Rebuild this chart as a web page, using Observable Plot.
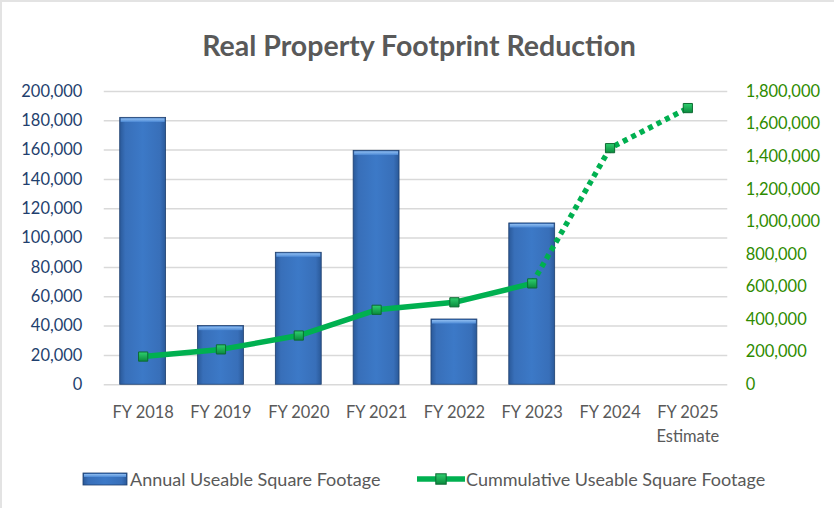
<!DOCTYPE html>
<html>
<head>
<meta charset="utf-8">
<script src="https://cdn.jsdelivr.net/npm/d3@7"></script>
<script src="https://cdn.jsdelivr.net/npm/@observablehq/plot@0.6"></script>
<style>
  body { margin: 0; background: #fff; font-family: Lato, "Open Sans", sans-serif; }
  #frame { position: relative; width: 834px; height: 508px; box-sizing: border-box; border-top: 2px solid #e3e3e3; border-left: 2px solid #e3e3e3; overflow: hidden; }
  #title { position: absolute; top: 26px; left: 0; width: 834px; text-align: center; font-size: 28.5px; font-weight: bold; color: #595959; }
  #chart { position: absolute; top: 73px; left: -2px; }
  #legend { position: absolute; top: 465px; left: 0; width: 834px; font-size: 18px; color: #595959; }
  #legend .item { position: absolute; top: 0; display: flex; align-items: center; height: 24px; }
</style>
</head>
<body>
<div id="frame">
  <div id="title">Real Property Footprint Reduction</div>
  <div id="chart"></div>
  <div id="legend"></div>
</div>
<script>
const categories = ["FY 2018", "FY 2019", "FY 2020", "FY 2021", "FY 2022", "FY 2023", "FY 2024", "FY 2025\nEstimate"];
const annual = [182000, 40000, 90000, 159500, 44500, 110000, null, null];
const cumulative = [173000, 217000, 302000, 460000, 506000, 622000, 1452000, 1698000];
const leftTicks = [0, 20000, 40000, 60000, 80000, 100000, 120000, 140000, 160000, 180000, 200000];
const rightTicks = [0, 200000, 400000, 600000, 800000, 1000000, 1200000, 1400000, 1600000, 1800000];
const seriesNames = ["Annual Useable Square Footage", "Cummulative Useable Square Footage"];
const ratio = 9; // right axis max / left axis max

const bars = categories.map((c, i) => ({cat: c, v: annual[i]})).filter(d => d.v != null);
const pts = categories.map((c, i) => ({cat: c, v: cumulative[i] / ratio, i}));
const solid = pts.filter(d => d.i <= 5);
const dotted = pts.filter(d => d.i >= 5);
const fmt = d3.format(",");

const plot = Plot.plot({
  width: 836,
  height: 372,
  marginLeft: 104,
  marginRight: 107,
  marginTop: 16,
  marginBottom: 62,
  style: {fontFamily: "Lato, 'Open Sans', sans-serif", fontSize: "16.5px", background: "transparent"},
  x: {domain: categories, paddingInner: 0.41, paddingOuter: 0.205, label: null},
  y: {domain: [0, 200000], label: null},
  marks: [
    Plot.ruleY(leftTicks, {stroke: "#d9d9d9", strokeWidth: 1.5}),
    Plot.barY(bars, {x: "cat", y: "v", fill: "url(#barGrad)", stroke: "#1e3f6e", strokeWidth: 0.8}),
    Plot.barY(bars, {x: "cat", y1: d => d.v - 3800, y2: "v", fill: "url(#bevelGrad)", inset: 1}),
    Plot.line(solid, {x: "cat", y: "v", stroke: "#00b050", strokeWidth: 5.5}),
    Plot.line(dotted, {x: "cat", y: "v", stroke: "#00b050", strokeWidth: 5.5, strokeDasharray: "5,4.5", strokeLinecap: "butt", strokeLinejoin: "miter"}),
    Plot.dot(pts, {x: "cat", y: "v", symbol: "square", r: 5.2, fill: "url(#dotGrad)", stroke: "#0d6a32", strokeWidth: 1}),
    Plot.axisY(leftTicks, {anchor: "left", tickSize: 0, tickPadding: 22, tickFormat: fmt, color: "#1f3f6e", label: null}),
    Plot.axisY(rightTicks.map(v => v / ratio), {anchor: "right", tickSize: 0, tickPadding: 18, tickFormat: d => fmt(Math.round(d * ratio)), color: "#2e8b00", label: null}),
    Plot.axisX({tickSize: 0, tickPadding: 16, color: "#595959", label: null, lineHeight: 1.45})
  ]
});

const defs = `
<defs>
  <linearGradient id="barGrad" x1="0" x2="1" y1="0" y2="0">
    <stop offset="0" stop-color="#2a5999"/>
    <stop offset="0.12" stop-color="#386fb9"/>
    <stop offset="0.5" stop-color="#3c79c7"/>
    <stop offset="0.88" stop-color="#386fb9"/>
    <stop offset="1" stop-color="#2a5999"/>
  </linearGradient>
  <linearGradient id="bevelGrad" x1="0" x2="0" y1="0" y2="1">
    <stop offset="0" stop-color="#8fbdf0"/>
    <stop offset="1" stop-color="#4d8ad6"/>
  </linearGradient>
  <linearGradient id="dotGrad" x1="0" x2="0" y1="0" y2="1">
    <stop offset="0" stop-color="#2fd06f"/>
    <stop offset="1" stop-color="#0a8a3c"/>
  </linearGradient>
</defs>`;
plot.insertAdjacentHTML("afterbegin", defs);
document.getElementById("chart").appendChild(plot);

const legend = document.getElementById("legend");
legend.innerHTML = `
  <div class="item" style="left:80px">
    <svg width="46" height="14" style="margin-right:2px"><rect x="1" y="1" width="44" height="12" fill="url(#barGrad)" stroke="#1e3f6e" stroke-width="0.8"/><rect x="2" y="2" width="42" height="3" fill="url(#bevelGrad)"/></svg>
    <span>${seriesNames[0]}</span>
  </div>
  <div class="item" style="left:414px">
    <svg width="50" height="14"><line x1="1" x2="49" y1="7" y2="7" stroke="#00b050" stroke-width="5.5"/><rect x="19.8" y="1.8" width="10.4" height="10.4" fill="url(#dotGrad)" stroke="#0d6a32"/></svg>
    <span>${seriesNames[1]}</span>
  </div>`;
</script>
</body>
</html>
